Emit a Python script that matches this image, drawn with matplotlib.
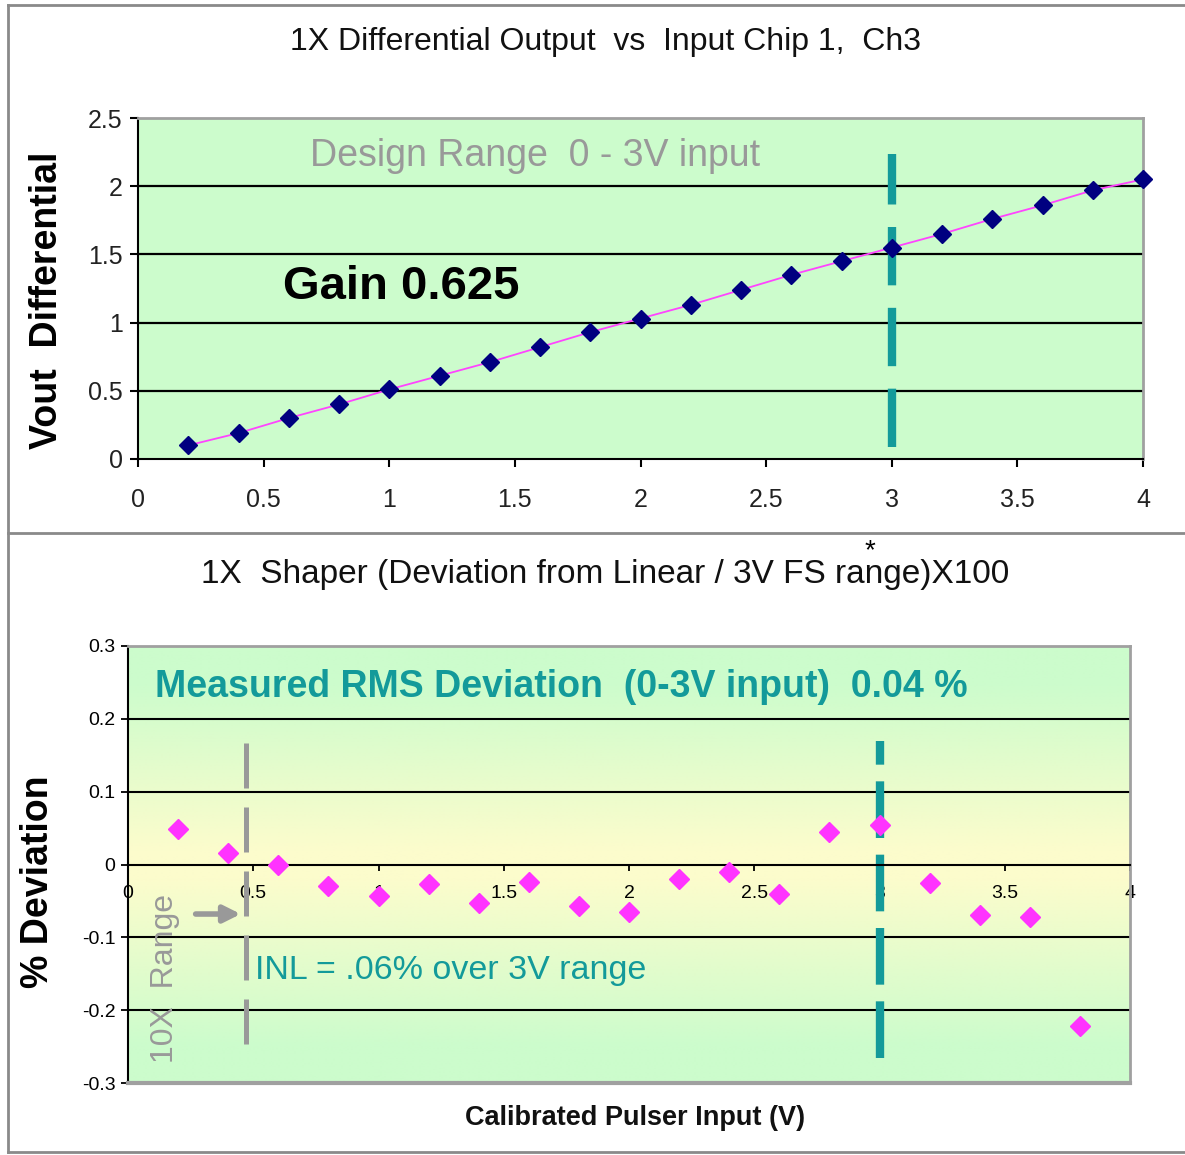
import numpy as np
import matplotlib
matplotlib.use("Agg")
from matplotlib import pyplot as plt
from matplotlib.lines import Line2D
from matplotlib.colors import to_rgb

plt.rcParams['font.family'] = ['Liberation Sans', 'DejaVu Sans']

# top chart: differential output vs input
vin = [0.2, 0.4, 0.6, 0.8, 1.0, 1.2, 1.4, 1.6, 1.8, 2.0,
       2.2, 2.4, 2.6, 2.8, 3.0, 3.2, 3.4, 3.6, 3.8, 4.0]
vout = [0.10, 0.19, 0.30, 0.40, 0.51, 0.61, 0.71, 0.82, 0.93, 1.03,
        1.13, 1.24, 1.35, 1.45, 1.55, 1.65, 1.76, 1.86, 1.97, 2.05]

# bottom chart: % deviation from linear
dev_x = [0.2, 0.4, 0.6, 0.8, 1.0, 1.2, 1.4, 1.6, 1.8, 2.0,
         2.2, 2.4, 2.6, 2.8, 3.0, 3.2, 3.4, 3.6, 3.8]
dev = [0.049, 0.016, 0.000, -0.029, -0.043, -0.027, -0.053, -0.024, -0.057, -0.065,
       -0.020, -0.010, -0.040, 0.045, 0.054, -0.026, -0.069, -0.072, -0.222]

top_xticks = [0, 0.5, 1, 1.5, 2, 2.5, 3, 3.5, 4]
top_xlabels = ["0", "0.5", "1", "1.5", "2", "2.5", "3", "3.5", "4"]
top_yticks = [0, 0.5, 1, 1.5, 2, 2.5]
top_ylabels = ["0", "0.5", "1", "1.5", "2", "2.5"]
bot_yticks = [-0.3, -0.2, -0.1, 0, 0.1, 0.2, 0.3]
bot_ylabels = ["-0.3", "-0.2", "-0.1", "0", "0.1", "0.2", "0.3"]

W, H = 1185, 1155
fig = plt.figure(figsize=(W / 100, H / 100), dpi=100)

GREEN = "#ccfccc"
YELLOW = "#fcfccc"
TEAL = "#139a9a"
BORDER = "#a0a0a0"
GRAY_TXT = "#999999"


def fx(px):
    return px / W


def fy(py):
    return 1 - py / H


# ---------------- top panel ----------------
ax1 = fig.add_axes([fx(138), fy(459), fx(1143) - fx(138), fy(118) - fy(459)])
ax1.set_facecolor(GREEN)
ax1.set_xlim(0, 4)
ax1.set_ylim(0, 2.5)
ax1.set_xticks(top_xticks, top_xlabels)
ax1.set_yticks(top_yticks, top_ylabels)
ax1.tick_params(axis='x', length=6, width=1.5, pad=15, labelsize=18)
ax1.tick_params(axis='y', length=6, width=1.5, pad=5, labelsize=18)
for t in ax1.get_xticklabels() + ax1.get_yticklabels():
    t.set_color("#222222")
ax1.spines['left'].set_linewidth(1.5)
ax1.spines['bottom'].set_linewidth(1.5)
ax1.spines['top'].set_color(BORDER)
ax1.spines['right'].set_color(BORDER)
ax1.spines['top'].set_linewidth(2)
ax1.spines['right'].set_linewidth(2)
for yv in [0.5, 1, 1.5, 2]:
    ax1.axhline(yv, color="black", lw=1.6, zorder=1)

ax1.plot([3, 3], [0.088, 2.235], color=TEAL, lw=6, linestyle=(0, (7.0, 2.7)),
         solid_capstyle='butt', zorder=2)
ax1.plot(vin, vout, color="#ff44ff", lw=1.3, zorder=3)
ax1.plot(vin, vout, linestyle='none', marker='D', markersize=9,
         color="#000080", zorder=4, clip_on=False)

ax1.text(0.685, 2.22, "Design Range  0 - 3V input", fontsize=27,
         color=GRAY_TXT, ha='left', va='center')
ax1.text(0.577, 1.26, "Gain 0.625", fontsize=34, fontweight='bold',
         color="black", ha='left', va='center')

fig.text(fx(605), fy(42), "1X Differential Output  vs  Input Chip 1,  Ch3",
         fontsize=23, ha='center', va='center', color="#111111")
fig.text(fx(47), fy(300), "Vout  Differential", fontsize=27, fontweight='bold',
         rotation=90, ha='center', va='center')

# ---------------- bottom panel ----------------
ax2 = fig.add_axes([fx(128), fy(1083), fx(1130) - fx(128), fy(646) - fy(1083)])
ax2.set_xlim(0, 4)
ax2.set_ylim(-0.3, 0.3)

# green-yellow-green vertical gradient behind the plot
gy = np.linspace(0.3, -0.3, 300)
tt = np.clip((np.abs(gy) - 0.02) / 0.23, 0, 1)[:, None]
grad = (1 - tt) * np.array(to_rgb(YELLOW)) + tt * np.array(to_rgb(GREEN))
ax2.imshow(grad[:, None, :].repeat(2, axis=1), extent=[0, 4, -0.3, 0.3],
           aspect='auto', zorder=0, interpolation='bilinear')

ax2.set_xticks(top_xticks, top_xlabels)
ax2.set_yticks(bot_yticks, bot_ylabels)
ax2.spines['bottom'].set_position(('data', 0))
ax2.spines['bottom'].set_linewidth(1.5)
ax2.spines['left'].set_linewidth(1.5)
ax2.spines['top'].set_color(BORDER)
ax2.spines['right'].set_color(BORDER)
ax2.spines['top'].set_linewidth(2)
ax2.spines['right'].set_linewidth(2)
ax2.axhline(-0.3, color=BORDER, lw=3, clip_on=False, zorder=5)
ax2.tick_params(axis='x', length=4, width=1.3, pad=11, labelsize=14)
ax2.tick_params(axis='y', length=5, width=1.3, pad=4, labelsize=14)
for yv in [-0.2, -0.1, 0.1, 0.2]:
    ax2.axhline(yv, color="black", lw=1.5, zorder=1)

ax2.plot([3, 3], [-0.265, 0.17], color=TEAL, lw=6, linestyle=(0, (6.8, 2.0)),
         solid_capstyle='butt', zorder=2)
ax2.plot([0.47, 0.47], [-0.247, 0.183], color=GRAY_TXT, lw=3.6,
         linestyle=(0, (9.0, 3.8)), solid_capstyle='butt', zorder=2)
ax2.annotate("", xy=(0.45, -0.068), xytext=(0.27, -0.068),
             arrowprops=dict(arrowstyle='-|>', color=GRAY_TXT, lw=4,
                             mutation_scale=25, shrinkA=0, shrinkB=0), zorder=3)
ax2.plot(dev_x, dev, linestyle='none', marker='D', markersize=10,
         color="#ff33ff", zorder=4)

ax2.text(0.108, 0.244, "Measured RMS Deviation  (0-3V input)  0.04 %",
         fontsize=27, fontweight='bold', color=TEAL, ha='left', va='center')
ax2.text(0.507, -0.145, "INL = .06% over 3V range", fontsize=24.5,
         color=TEAL, ha='left', va='center')
ax2.text(0.148, -0.157, "10X  Range", fontsize=23, color=GRAY_TXT,
         rotation=90, ha='center', va='center')

fig.text(fx(605), fy(575), "1X  Shaper (Deviation from Linear / 3V FS range)X100",
         fontsize=24, ha='center', va='center', color="#111111")
fig.text(fx(870), fy(551), "*", fontsize=20, ha='center', va='center')
fig.text(fx(38), fy(882), "% Deviation", fontsize=27, fontweight='bold',
         rotation=90, ha='center', va='center')
fig.text(fx(635), fy(1118), "Calibrated Pulser Input (V)", fontsize=19.5,
         fontweight='bold', ha='center', va='center', color="#111111")

# outer frame and divider
for (x0, y0, x1, y1) in [(8, 5, 8, 1152), (8, 5, W, 5), (8, 533, W, 533),
                         (8, 1152, W, 1152)]:
    fig.add_artist(Line2D([fx(x0), fx(x1)], [fy(y0), fy(y1)],
                          transform=fig.transFigure, color="#8a8a8a", lw=2))

fig.savefig("out.png", dpi=100)
